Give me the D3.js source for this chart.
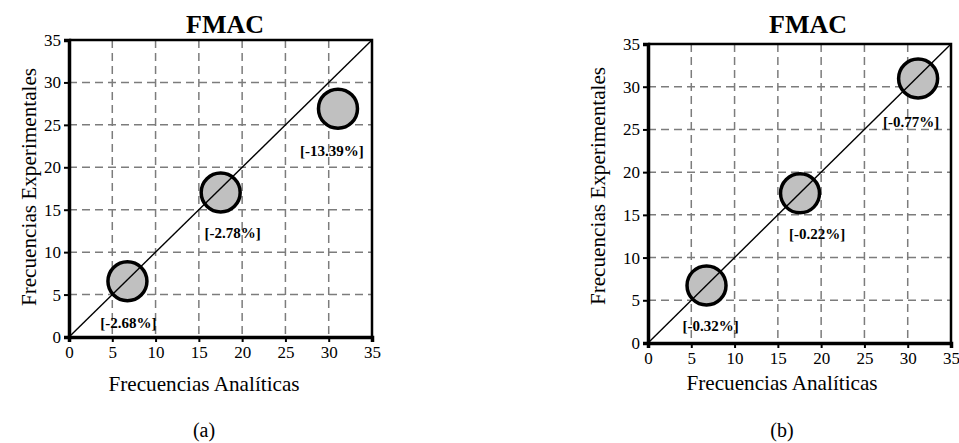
<!DOCTYPE html>
<html>
<head>
<meta charset="utf-8">
<script src="https://cdn.jsdelivr.net/npm/d3@7"></script>
<style>
  html, body { margin: 0; padding: 0; background: #ffffff; }
  svg { display: block; }
  text { font-family: "Liberation Serif", "Times New Roman", Times, serif; fill: #000; }
</style>
</head>
<body>
<svg id="chart" width="959" height="443"></svg>
<script>
// Axis ticks shared by both panels
const tickValues = [0, 5, 10, 15, 20, 25, 30, 35];

// Panel (a): analytical vs experimental frequencies and relative error
const analyticA = [6.75, 17.52, 31.07];
const experimentalA = [6.57, 17.03, 26.91];
const errorLabelsA = ["[-2.68%]", "[-2.78%]", "[-13.39%]"];

// Panel (b)
const analyticB = [6.76, 17.56, 31.2];
const experimentalB = [6.74, 17.52, 30.96];
const errorLabelsB = ["[-0.32%]", "[-0.22%]", "[-0.77%]"];

const chartTitle = "FMAC";
const xTitle = "Frecuencias Analíticas";
const yTitle = "Frecuencias Experimentales";

const FONT = '"Liberation Serif", "Times New Roman", Times, serif';
const svg = d3.select("#chart");
const STRETCH = 1.06; // slightly wide serif lettering

function panel(cfg) {
  const x = d3.scaleLinear().domain([0, 35]).range([cfg.left, cfg.right]);
  const y = d3.scaleLinear().domain([0, 35]).range([cfg.bottom, cfg.top]);
  const g = svg.append("g");

  // dashed grid
  const inner = tickValues.filter(v => v > 0 && v < 35);
  g.selectAll(".gx").data(inner).join("line")
    .attr("x1", d => x(d)).attr("x2", d => x(d))
    .attr("y1", cfg.top).attr("y2", cfg.bottom)
    .attr("stroke", "#7c7c7c").attr("stroke-width", 1.5)
    .attr("stroke-dasharray", "8,5");
  g.selectAll(".gy").data(inner).join("line")
    .attr("y1", d => y(d)).attr("y2", d => y(d))
    .attr("x1", cfg.left).attr("x2", cfg.right)
    .attr("stroke", "#7c7c7c").attr("stroke-width", 1.5)
    .attr("stroke-dasharray", "8,5");

  // frame: top and right
  g.append("path")
    .attr("d", `M${cfg.left},${cfg.top}H${cfg.right}V${cfg.bottom}`)
    .attr("fill", "none").attr("stroke", "#000").attr("stroke-width", 2.5);

  // axes
  const xAxis = g.append("g").attr("transform", `translate(0,${cfg.bottom})`)
    .call(d3.axisBottom(x).tickValues(tickValues).tickSize(5).tickPadding(4));
  const yAxis = g.append("g").attr("transform", `translate(${cfg.left},0)`)
    .call(d3.axisLeft(y).tickValues(tickValues).tickSize(5).tickPadding(3));
  [xAxis, yAxis].forEach(a => {
    a.select(".domain").attr("stroke", "#000").attr("stroke-width", 3.5);
    a.selectAll(".tick line").attr("stroke", "#000").attr("stroke-width", 2);
    a.selectAll(".tick text")
      .attr("font-family", FONT).style("font-family", FONT)
      .attr("font-size", 17).attr("fill", "#000");
  });

  // markers
  const pts = cfg.ana.map((a, i) => ({ a, e: cfg.exp[i], label: cfg.labels[i], off: cfg.offsets[i] }));
  g.selectAll("circle.pt").data(pts).join("circle")
    .attr("class", "pt")
    .attr("cx", d => x(d.a)).attr("cy", d => y(d.e)).attr("r", 19.5)
    .attr("fill", "#c0c0c0").attr("stroke", "#000").attr("stroke-width", 3.5);

  // 1:1 reference line, drawn over the markers
  g.append("line")
    .attr("x1", x(0)).attr("y1", y(0)).attr("x2", x(35)).attr("y2", y(35))
    .attr("stroke", "#000").attr("stroke-width", 1.4);

  g.selectAll("text.err").data(pts).join("text")
    .attr("class", "err")
    .attr("text-anchor", "middle").attr("font-weight", "bold").attr("font-size", 15)
    .attr("transform", d => `translate(${x(d.a) + d.off[0]},${y(d.e) + d.off[1]})`)
    .text(d => d.label);

  // titles
  svg.append("text").attr("text-anchor", "middle").attr("font-weight", "bold")
    .attr("font-size", 26)
    .attr("transform", `translate(${cfg.titleX},${cfg.titleY})`)
    .text(chartTitle);
  svg.append("text").attr("text-anchor", "middle").attr("font-size", 20)
    .attr("transform", `translate(${cfg.xTitleX},${cfg.xTitleY}) scale(${STRETCH},1)`)
    .text(xTitle);
  svg.append("text").attr("text-anchor", "middle").attr("font-size", 20)
    .attr("transform", `translate(${cfg.yTitleX},${cfg.yTitleY}) rotate(-90) scale(${STRETCH},1)`)
    .text(yTitle);
  svg.append("text").attr("text-anchor", "middle").attr("font-size", 20)
    .attr("transform", `translate(${cfg.capX},${cfg.capY})`)
    .text(cfg.caption);
}

panel({
  left: 69, right: 372, top: 40, bottom: 337,
  ana: analyticA, exp: experimentalA, labels: errorLabelsA,
  offsets: [[1, 47], [12, 46], [-6, 47]],
  titleX: 225, titleY: 33,
  xTitleX: 204, xTitleY: 391,
  yTitleX: 36, yTitleY: 187,
  capX: 204, capY: 437, caption: "(a)"
});

panel({
  left: 648, right: 951, top: 44, bottom: 343,
  ana: analyticB, exp: experimentalB, labels: errorLabelsB,
  offsets: [[4, 46], [17, 46], [-7, 48]],
  titleX: 808, titleY: 33,
  xTitleX: 782, xTitleY: 390,
  yTitleX: 605, yTitleY: 186,
  capX: 782, capY: 437, caption: "(b)"
});
</script>
</body>
</html>
